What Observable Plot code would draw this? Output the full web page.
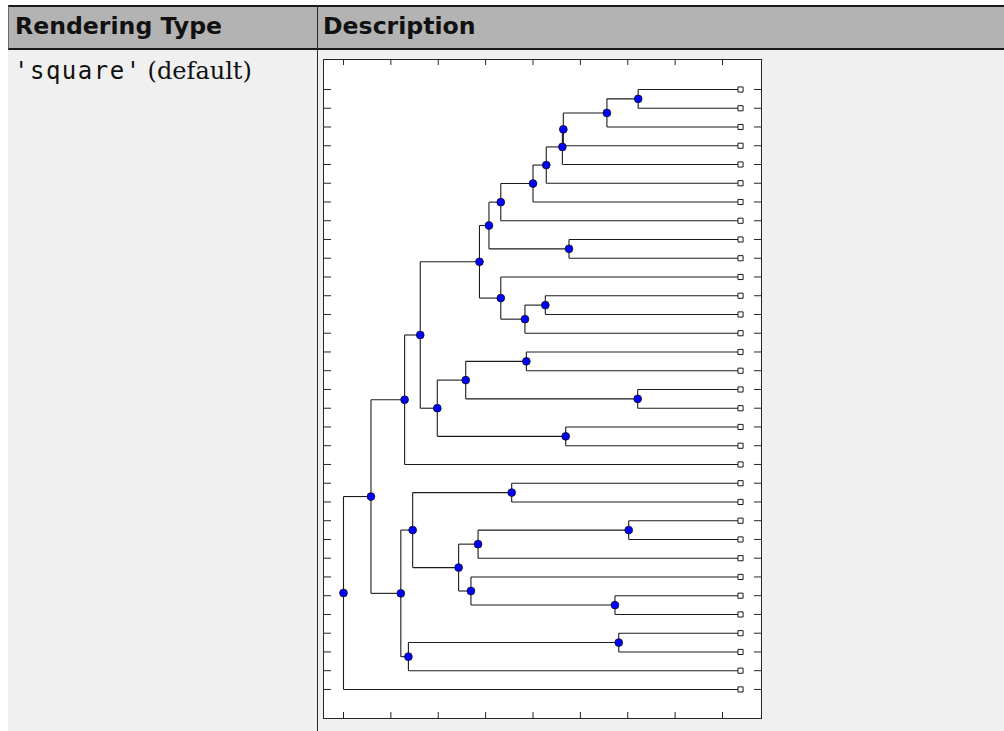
<!DOCTYPE html>
<html>
<head>
<meta charset="utf-8">
<script src="https://cdn.jsdelivr.net/npm/d3@7"></script>
<script src="https://cdn.jsdelivr.net/npm/@observablehq/plot@0.6"></script>
<style>
  html, body { margin: 0; padding: 0; background: #ffffff; }
  body { width: 1004px; height: 731px; position: relative; overflow: hidden; }
  .hdr { position: absolute; left: 8px; top: 5px; width: 996px; height: 45px; box-sizing: border-box;
         background: #b3b3b3; border-top: 2px solid #1a1a1a; border-bottom: 2px solid #1a1a1a; border-left: 1px solid #6a6a6a; }
  .row { position: absolute; left: 8px; top: 50px; width: 996px; height: 681px; background: #f0f0f0; }
  .divider { position: absolute; left: 317px; top: 5px; width: 1px; height: 726px; background: #2a2a2a; }
  .htext { position: absolute; top: 15.2px; font-family: "DejaVu Sans", sans-serif; font-weight: bold; font-size: 23.6px; line-height: 23.6px; color: #111; white-space: nowrap; }
  .btext { position: absolute; left: 14px; top: 58.5px; font-size: 24px; line-height: 24px; color: #111; white-space: nowrap; }
  .mono { font-family: "DejaVu Sans Mono", monospace; letter-spacing: 1.5px; }
  .serif { font-family: "DejaVu Serif", serif; }
  #chart { position: absolute; left: 322px; top: 58px; width: 440px; height: 661px; }
</style>
</head>
<body>
<div class="hdr"></div>
<div class="row"></div>
<div class="divider"></div>
<div class="htext" style="left:15px">Rendering Type</div>
<div class="htext" style="left:323px">Description</div>
<div class="btext"><span class="mono">'square'</span> <span class="serif">(default)</span></div>
<div id="chart"></div>
<script>
// ---- data ----
const leafNames = ["L0","L1","L2","L3","L4","L5","L6","L7","L8","L9","L10","L11","L12","L13","L14","L15","L16",
                   "L17","L18","L19","L20","L21","L22","L23","L24","L25","L26","L27","L28","L29","L30","L31","L32"];
const leafDistance = 8.38;
const nodeNames  = ["A","B","C","D","E","F","G","H","I","J","K","L","M","N","O","P","Q","R","S","T","U","V","W","X","Y","Z","AA","AB","AC","AD","AE","Root"];
const nodeDist   = [6.22,5.56,4.64,4.62,4.28,4.00,3.32,3.07,4.76,2.87,3.32,3.83,4.26,1.62,1.98,2.58,4.69,3.86,6.21,1.29,0.58,1.21,1.46,1.37,3.55,2.43,2.84,2.69,6.02,5.73,5.81,0];
const childLeft  = ["L0","A","B","C","D","E","F","G","L8","H","L10","M","L11","J","P","R","L18","L14","L16","N","T","W","Y","AE","L21","AA","AC","L26","L23","L27","L29","U"];
const childRight = ["L1","L2","L3","L4","L5","L6","L7","I","L9","K","L","L13","L12","O","Q","S","L19","L15","L17","L20","V","X","Z","L31","L22","AB","L25","AD","L24","L28","L30","L32"];
const xTicks = [0,1,2,3,4,5,6,7,8];
const xDomain = [-0.422, 8.823];
const yDomain = [-1.6, 33.55];

// ---- build tree geometry ----
const info = new Map();
leafNames.forEach((n, i) => info.set(n, {x: leafDistance, leafIndex: i}));
nodeNames.forEach((n, i) => info.set(n, {x: nodeDist[i], kids: [childLeft[i], childRight[i]]}));
function yOf(n) {
  const d = info.get(n);
  if (d.y !== undefined) return d.y;
  d.y = d.kids ? (yOf(d.kids[0]) + yOf(d.kids[1])) / 2 : d.leafIndex;
  return d.y;
}
const links = [];
const nodes = [];
nodeNames.forEach(n => {
  const d = info.get(n);
  const [a, b] = d.kids;
  links.push({x1: d.x, y1: yOf(a), x2: d.x, y2: yOf(b)});
  for (const c of d.kids) links.push({x1: d.x, y1: yOf(c), x2: info.get(c).x, y2: yOf(c)});
  nodes.push({x: d.x, y: yOf(n)});
});
const leaves = leafNames.map(n => ({x: info.get(n).x, y: yOf(n)}));
const yTicks = leafNames.map(n => yOf(n));

const ink = "#262626";
const plot = Plot.plot({
  width: 440, height: 661,
  marginTop: 1, marginBottom: 1, marginLeft: 1, marginRight: 1,
  style: {background: "transparent"},
  x: {domain: xDomain},
  y: {domain: yDomain, reverse: true},
  marks: [
    Plot.frame({fill: "white", stroke: null}),
    Plot.axisX({anchor: "top", ticks: xTicks, tickSize: 5, dy: 5, tickFormat: () => "", label: null, stroke: ink}),
    Plot.axisX({anchor: "bottom", ticks: xTicks, tickSize: 6, dy: -6, tickFormat: () => "", label: null, stroke: ink}),
    Plot.axisY({anchor: "left", ticks: yTicks, tickSize: 8, dx: 8, tickFormat: () => "", label: null, stroke: ink}),
    Plot.axisY({anchor: "right", ticks: yTicks, tickSize: 8, dx: -8, tickFormat: () => "", label: null, stroke: ink}),
    Plot.link(links, {x1: "x1", y1: "y1", x2: "x2", y2: "y2", stroke: "#1c1c1c", strokeWidth: 1.1}),
    Plot.dot(leaves, {x: "x", y: "y", symbol: "square", r: 2.9, fill: "white", stroke: "#1c1c1c", strokeWidth: 1}),
    Plot.dot(nodes, {x: "x", y: "y", r: 3.9, fill: "#0000ff", stroke: "#111", strokeWidth: 0.8}),
    Plot.frame({stroke: ink, strokeWidth: 1})
  ]
});
document.getElementById("chart").appendChild(plot);
</script>
</body>
</html>
